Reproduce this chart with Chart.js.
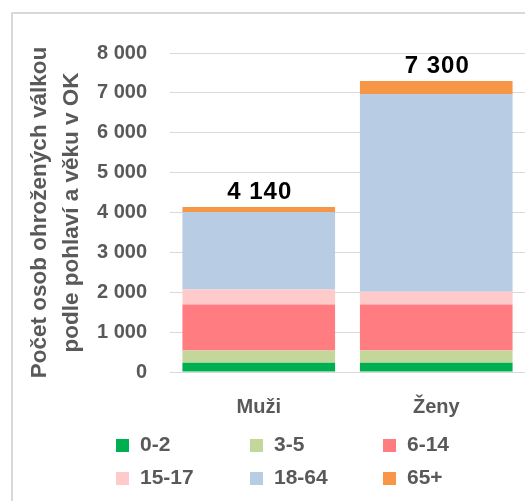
<!DOCTYPE html>
<html>
<head>
<meta charset="utf-8">
<script src="https://cdn.jsdelivr.net/npm/chart.js@4.4.1/dist/chart.umd.min.js"></script>
<style>
  html, body { margin: 0; padding: 0; background: #fff; }
  #wrap { position: relative; width: 525px; height: 501px; overflow: hidden; }
  #frame { position: absolute; left: 11px; top: 12px; width: 700px; height: 700px;
           border-left: 2px solid #d9d9d9; border-top: 2px solid #d9d9d9; }
  canvas { position: absolute; left: 0; top: 0; }
</style>
</head>
<body>
<div id="wrap">
  <div id="frame"></div>
  <canvas id="chart" width="525" height="501"></canvas>
</div>
<script>
// data
const categories = ["Muži", "Ženy"];
const ageGroups = ["0-2", "3-5", "6-14", "15-17", "18-64", "65+"];
const age0to2 = [230, 230];
const age3to5 = [310, 310];
const age6to14 = [1150, 1150];
const age15to17 = [380, 320];
const age18to64 = [1940, 4960];
const age65plus = [130, 330];
const yTitle = ["Počet osob ohrožených válkou", "podle pohlaví a věku v OK"];

const colors = ["#00b050", "#c4d79b", "#ff7c80", "#ffcaca", "#b8cce4", "#f79646"];
const grey = "#595959";
const fontFam = '"Liberation Sans", Arial, sans-serif';

function fmt(v) {
  return String(Math.round(v)).replace(/\B(?=(\d{3})+(?!\d))/g, " ");
}

const seriesList = [age0to2, age3to5, age6to14, age15to17, age18to64, age65plus];

const chartData = {
  labels: categories,
  datasets: seriesList.map(function (vals, i) {
    return {
      label: ageGroups[i],
      data: vals,
      backgroundColor: colors[i],
      borderWidth: 0,
      categoryPercentage: 1,
      barPercentage: 0.86
    };
  })
};

// total above each stack
const totalLabels = {
  id: "totalLabels",
  afterDatasetsDraw(chart) {
    const ctx = chart.ctx;
    const last = chart.getDatasetMeta(chart.data.datasets.length - 1);
    ctx.save();
    ctx.font = "bold 24px " + fontFam;
    ctx.letterSpacing = "1px";
    ctx.fillStyle = "#000";
    ctx.textAlign = "center";
    ctx.textBaseline = "alphabetic";
    last.data.forEach(function (bar, i) {
      let sum = 0;
      chart.data.datasets.forEach(function (ds) { sum += ds.data[i]; });
      ctx.fillText(fmt(sum), bar.x + 1, bar.y - 8);
    });
    ctx.restore();
  }
};

// legend laid out as 3 x 2 grid like the original
const gridLegend = {
  id: "gridLegend",
  afterDraw(chart) {
    const ctx = chart.ctx;
    const colX = [116, 250, 383];
    const rowY = [445, 478];
    ctx.save();
    ctx.font = "bold 21px " + fontFam;
    ctx.textBaseline = "middle";
    ctx.textAlign = "left";
    chart.data.datasets.forEach(function (ds, i) {
      const x = colX[i % 3];
      const y = rowY[Math.floor(i / 3)];
      ctx.fillStyle = ds.backgroundColor;
      ctx.fillRect(x, y - 6, 13, 13);
      ctx.fillStyle = grey;
      ctx.fillText(ds.label, x + 24, y);
    });
    ctx.restore();
  }
};

const ctx = document.getElementById("chart").getContext("2d");
const chart = new Chart(ctx, {
  type: "bar",
  data: chartData,
  plugins: [totalLabels, gridLegend],
  options: {
    responsive: false,
    animation: false,
    layout: { padding: { top: 53, left: 0, right: 0, bottom: 0 } },
    plugins: {
      legend: { display: false },
      tooltip: { enabled: false }
    },
    scales: {
      x: {
        stacked: true,
        grid: { display: false },
        border: { display: false },
        ticks: {
          color: grey,
          padding: 15,
          font: { family: fontFam, size: 20, weight: "bold" }
        },
        afterFit(scale) { scale.height = 129; }
      },
      y: {
        stacked: true,
        min: 0,
        max: 8000,
        grid: { color: "#d9d9d9", drawTicks: false },
        border: { display: false },
        ticks: {
          stepSize: 1000,
          padding: 23,
          color: grey,
          font: { family: fontFam, size: 20, weight: "bold" },
          callback: function (v) { return fmt(v); }
        },
        title: {
          display: true,
          text: yTitle,
          color: grey,
          padding: { top: 24, bottom: 0 },
          font: { family: fontFam, size: 22.5, weight: "bold", lineHeight: 1.42 }
        },
        afterFit(scale) { scale.width = 170; }
      }
    }
  }
});
</script>
</body>
</html>
